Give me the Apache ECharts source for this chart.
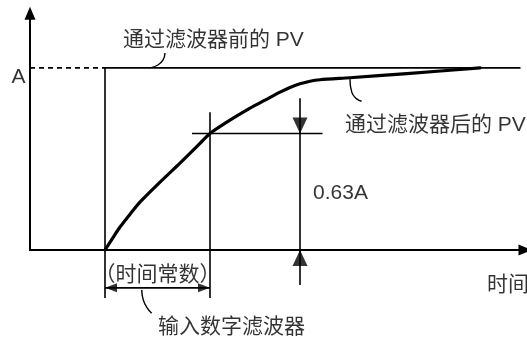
<!DOCTYPE html>
<html><head><meta charset="utf-8">
<script src="https://cdn.jsdelivr.net/npm/echarts@6/dist/echarts.min.js"></script>
<style>html,body{margin:0;padding:0;background:#fff}#c{width:527px;height:338px}</style>
</head><body><div id="c"></div>
<script>
// ---- data (time units on x, % of A on y) ----
const timeRange = [0, 33];
const valueRange = [0, 130];
const inputPVDashed = [[0, 100], [5, 100]];
const inputPV = [[5, -26.3], [5, 100], [32.7, 100]];
const filteredPV = [[5, 0], [5.47, 6.0], [6, 12.6], [6.67, 19.7], [7.33, 26.3], [8.67, 37.3], [10, 47.7],
  [11.33, 58.5], [12, 64], [13.33, 71.3], [14.67, 77.9], [15.67, 82.3], [16.67, 86.7], [17.33, 89.3],
  [18, 91.3], [18.67, 92.7], [19.33, 93.5], [21.33, 94.6], [25.13, 96.9], [30, 100]];
const tauLine = [[12, 75.7], [12, -26.3]];
const level63Line = [[10.8, 64], [19.5, 64]];
const markLine63 = [[18, 83.4], [18, -19.2]];
const bracketLine = [[5, -20.8], [12, -20.8]];
const arrowDown = [[18, 64]];
const arrowUp = [[18, 0]];
const arrowLeft = [[5, -20.8]];
const arrowRight = [[12, -20.8]];
const leaderBefore = [[8.0, 100], [8.53, 101.6], [8.87, 104.4], [9.0, 108.2]];
const leaderAfter = [[21.33, 93.8], [21.45, 86.7], [21.78, 83.0], [22.11, 81.7]];
const leaderTau = [[7.45, -21.9], [7.55, -27.4], [7.82, -31.9], [8.11, -34.7]];
const labelTexts = ['通过滤波器前的 PV', '通过滤波器后的 PV', '0.63A', '（时间常数）', '输入数字滤波器', '时间', 'A'];
const labelAt = [[6.2, 115.2], [21.0, 68.6], [18.87, 31.3], [8.5, -13.7], [8.53, -42.2], [30.47, -19.2], [-0.77, 95]];
const labelAlign = ['left', 'left', 'left', 'center', 'left', 'left', 'center'];

const FONT = "'Liberation Sans', 'Noto Sans CJK SC', sans-serif";
const thin = { color: '#000', width: 1.6 };
function lineSeries(data, style, extra) {
  return Object.assign({ type: 'line', data: data, symbol: 'none', clip: false, silent: true,
    lineStyle: Object.assign({}, thin, style || {}), z: 3, animation: false }, extra || {});
}
function arrowSeries(data, rot, size, offset) {
  return { type: 'scatter', data: data, symbol: 'triangle', symbolRotate: rot, symbolSize: size,
    symbolOffset: offset, clip: false, silent: true, itemStyle: { color: '#000' }, z: 5, animation: false };
}

const chart = echarts.init(document.getElementById('c'));
chart.setOption({
  backgroundColor: '#fff',
  animation: false,
  grid: { left: 30, top: 13.3, width: 495, height: 236.7 },
  xAxis: { type: 'value', min: timeRange[0], max: timeRange[1],
    axisLine: { lineStyle: { color: '#000', width: 2 }, symbol: ['none', 'triangle'], symbolSize: [11, 13], symbolOffset: [0, 0] },
    axisTick: { show: false }, axisLabel: { show: false }, splitLine: { show: false } },
  yAxis: { type: 'value', min: valueRange[0], max: valueRange[1],
    axisLine: { show: true, lineStyle: { color: '#000', width: 2 }, symbol: ['none', 'triangle'], symbolSize: [11, 13], symbolOffset: [0, 0] },
    axisTick: { show: false }, axisLabel: { show: false }, splitLine: { show: false } },
  series: [
    lineSeries(inputPVDashed, { type: [5, 4] }),
    lineSeries(inputPV),
    lineSeries(filteredPV, { width: 3.2, join: 'round', cap: 'round' }, { smooth: 0.25, z: 4 }),
    lineSeries(tauLine),
    lineSeries(level63Line),
    lineSeries(markLine63),
    lineSeries(bracketLine),
    lineSeries(leaderBefore, { width: 1.4 }, { smooth: true }),
    lineSeries(leaderAfter, { width: 1.4 }, { smooth: true }),
    lineSeries(leaderTau, { width: 1.4 }, { smooth: true }),
    arrowSeries(arrowDown, 180, [15, 16], [0, -8]),
    arrowSeries(arrowUp, 0, [15, 16], [0, 8]),
    arrowSeries(arrowLeft, 90, [9, 12], [6, 0]),
    arrowSeries(arrowRight, -90, [9, 12], [-6, 0]),
    { type: 'scatter', symbolSize: 0, clip: false, silent: true, animation: false, z: 6,
      data: labelTexts.map((t, i) => ({ value: labelAt[i], name: t,
        label: { show: true, formatter: t, position: labelAlign[i] === 'left' ? 'right' : 'inside', distance: 0,
          color: '#000', fontSize: 21, fontFamily: FONT } })) }
  ]
});
</script></body></html>
